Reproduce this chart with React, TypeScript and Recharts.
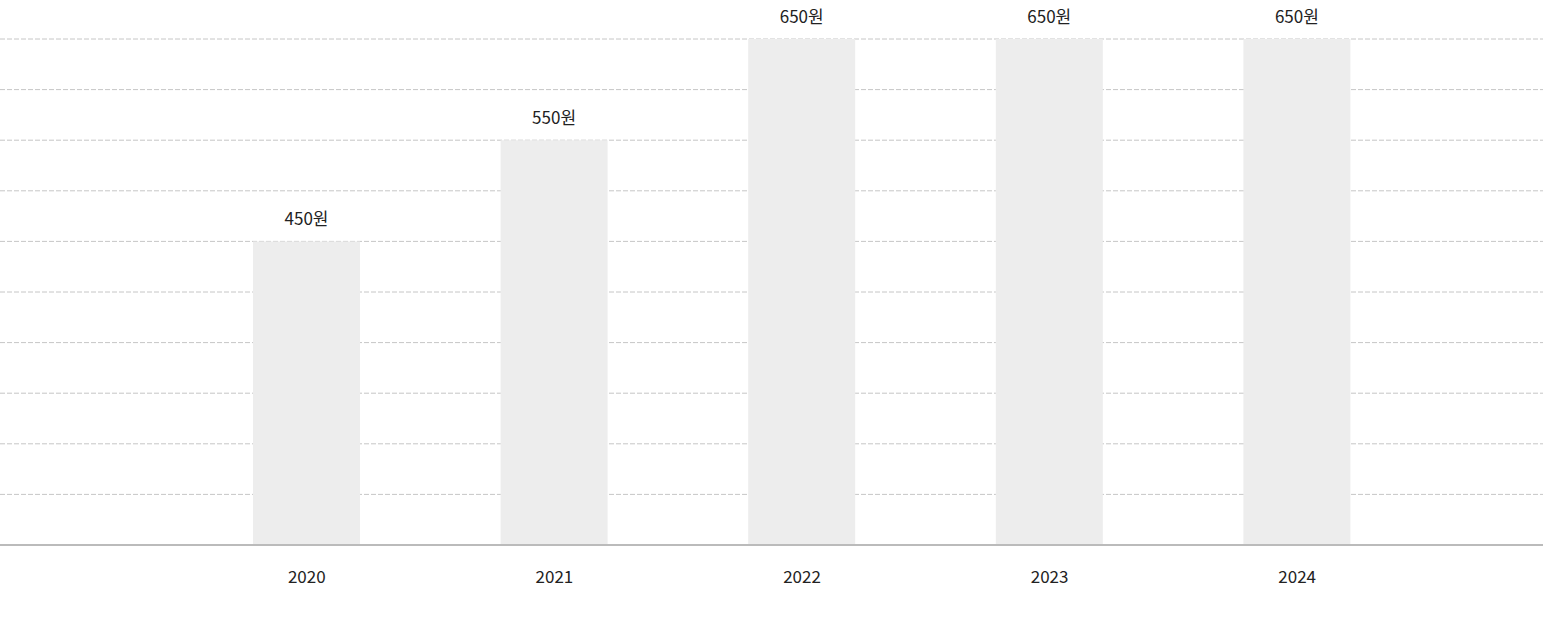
import { BarChart, Bar, XAxis, YAxis, CartesianGrid, LabelList } from 'recharts';

const years = ['2020', '2021', '2022', '2023', '2024'];
const prices = [450, 550, 650, 650, 650];
const yTicks = [150, 200, 250, 300, 350, 400, 450, 500, 550, 600, 650];

const data = years.map((year, i) => ({ year, price: prices[i] }));

const FONT = '"Noto Sans CJK KR", "Noto Sans", sans-serif';

export default function App() {
  return (
    <div style={{ position: 'absolute', left: 0, top: 0, fontFamily: FONT }}>
      <BarChart
        data={data}
        height={625}
        margin={{ top: 39, right: 0, left: 0, bottom: 0 }}
        width={1543}
      >
        <CartesianGrid stroke='#c6c6c6' strokeDasharray='5 2' vertical={false} />
        <XAxis
          axisLine={{ stroke: '#bbbbbb', strokeWidth: 2 }}
          dataKey='year'
          height={80}
          padding={{ left: 183, right: 122 }}
          tick={{ fill: '#222222', fontSize: 17, fontFamily: FONT }}
          tickLine={false}
          tickMargin={20}
        />
        <YAxis domain={[150, 650]} hide ticks={yTicks} />
        <Bar barSize={107} dataKey='price' fill='#ededed' isAnimationActive={false}>
          <LabelList
            dataKey='price'
            fill='#222222'
            fontFamily={FONT}
            fontSize={17}
            formatter={(v: any) => `${v}원`}
            offset={16}
            position='top'
          />
        </Bar>
      </BarChart>
    </div>
  );
}
